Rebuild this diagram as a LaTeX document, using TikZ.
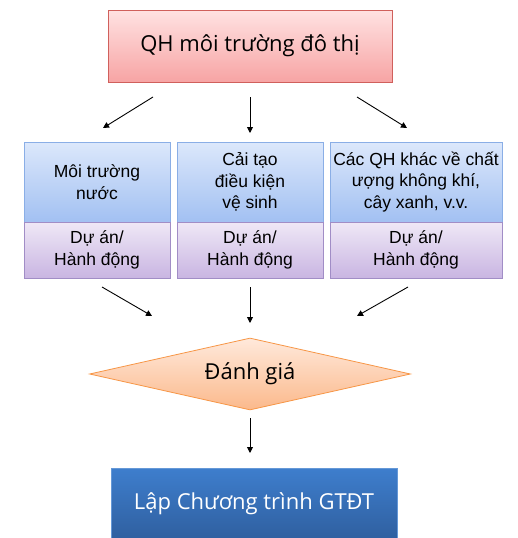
\documentclass[tikz,border=0pt]{standalone}
\usepackage{fontspec}
\setmainfont{Open Sans}
\newfontfamily\arialfont{Liberation Sans}
\usetikzlibrary{shapes.geometric,arrows.meta}
\definecolor{redline}{HTML}{D0605C}
\definecolor{redtop}{HTML}{FFE2E2}
\definecolor{redbot}{HTML}{F7A4A4}
\definecolor{blueline}{HTML}{8AAEE6}
\definecolor{bluetop}{HTML}{DCE8FB}
\definecolor{bluebot}{HTML}{A2C0F2}
\definecolor{purpline}{HTML}{A18DC6}
\definecolor{purptop}{HTML}{EFE8F6}
\definecolor{purpbot}{HTML}{C9B5E2}
\definecolor{orline}{HTML}{F79646}
\definecolor{ortop}{HTML}{FFE9DB}
\definecolor{orbot}{HTML}{FBB98C}
\definecolor{dbtop}{HTML}{3E7ECD}
\definecolor{dbbot}{HTML}{2F5F9F}
\begin{document}
\begin{tikzpicture}[x=1pt,y=-1pt,
    arr/.style={-{Triangle[length=6pt,width=6pt]},line width=0.9pt},
    plan node/.style={rectangle,draw=redline,line width=0.8pt,top color=redtop,bottom color=redbot,
        minimum width=284pt,minimum height=72pt,font=\fontsize{22}{26}\selectfont},
    topic node/.style={rectangle,draw=blueline,line width=0.8pt,top color=bluetop,bottom color=bluebot,
        minimum height=80pt,align=center,font=\arialfont\fontsize{17.5}{21.5}\selectfont,inner sep=0pt},
    action node/.style={rectangle,draw=purpline,line width=0.8pt,top color=purptop,bottom color=purpbot,
        minimum height=56pt,align=center,font=\arialfont\fontsize{17.5}{21.5}\selectfont},
    eval node/.style={diamond,draw=orline,line width=0.8pt,top color=ortop,bottom color=orbot,
        minimum width=321pt,minimum height=72pt,inner sep=0pt,aspect=4.4,font=\fontsize{22}{26}\selectfont},
    prog node/.style={rectangle,draw=dbtop!80!white,line width=0.6pt,top color=dbtop,bottom color=dbbot,
        text=white,minimum width=286pt,minimum height=72pt,font=\fontsize{22}{26}\selectfont}]
    \useasboundingbox (0,0) rectangle (517,538);

    \node[plan node] at (250,46) (plan) {QH môi trường đô thị};

    \node[topic node,minimum width=146pt] at (97,182) (t1) {Môi trường\\nước};
    \node[topic node,minimum width=146pt] at (250,182) (t2) {Cải tạo\\điều kiện\\vệ sinh};
    \node[topic node,minimum width=172pt] at (416,182) (t3) {Các QH khác về chất\\ượng không khí,\\cây xanh, v.v.};

    \node[action node,minimum width=146pt] at (97,250) (a1) {Dự án/\\Hành động};
    \node[action node,minimum width=146pt] at (250,250) (a2) {Dự án/\\Hành động};
    \node[action node,minimum width=172pt] at (416,250) (a3) {Dự án/\\Hành động};

    \node[eval node] at (250,374) (eval) {Đánh giá};

    \node[prog node] at (254,504) (prog) {Lập Chương trình GTĐT};

    % free ends of the arrows
    \coordinate (p1) at (153,97);  \coordinate (q1) at (103,128);
    \coordinate (p2) at (250,97);  \coordinate (q2) at (250,133);
    \coordinate (p3) at (357,97);  \coordinate (q3) at (407,128);
    \coordinate (r1) at (102,287); \coordinate (s1) at (152,316);
    \coordinate (r2) at (250,287); \coordinate (s2) at (250,323);
    \coordinate (r3) at (408,287); \coordinate (s3) at (357,316);
    \coordinate (u) at (250,418);  \coordinate (v) at (250,453);

    \draw[arr] (p1) -- (q1);
    \draw[arr] (p2) -- (q2);
    \draw[arr] (p3) -- (q3);
    \draw[arr] (r1) -- (s1);
    \draw[arr] (r2) -- (s2);
    \draw[arr] (r3) -- (s3);
    \draw[arr] (u) -- (v);
\end{tikzpicture}
\end{document}
